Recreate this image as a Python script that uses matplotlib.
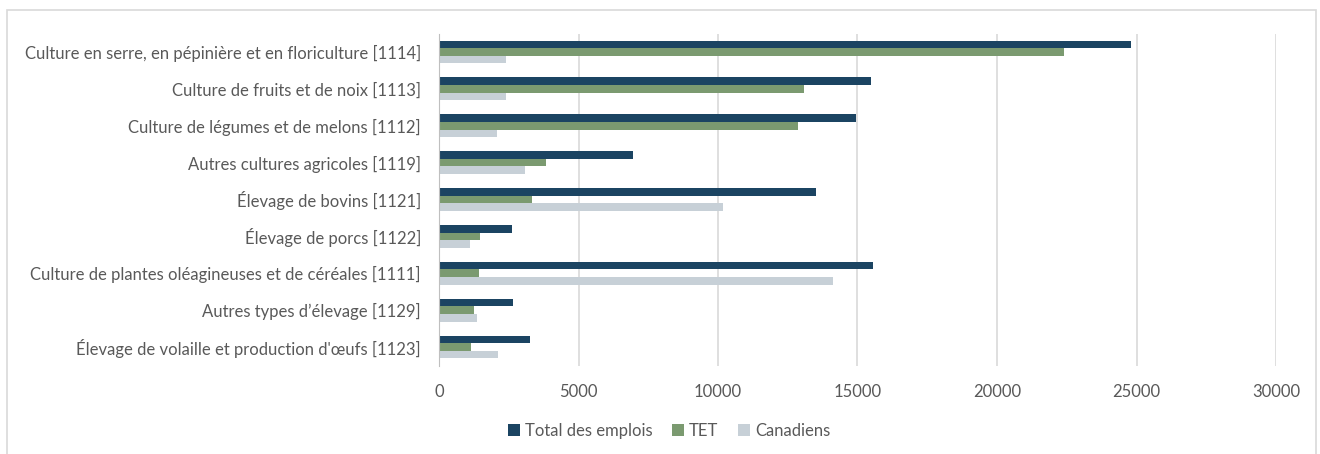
import numpy as np
import matplotlib.pyplot as plt
from matplotlib.patches import Rectangle

# ============= Data
categories = [
    "Culture en serre, en pépinière et en floriculture [1114]",
    "Culture de fruits et de noix [1113]",
    "Culture de légumes et de melons [1112]",
    "Autres cultures agricoles [1119]",
    "Élevage de bovins [1121]",
    "Élevage de porcs [1122]",
    "Culture de plantes oléagineuses et de céréales [1111]",
    "Autres types d\u2019élevage [1129]",
    "Élevage de volaille et production d'œufs [1123]",
]
total_emplois = [24800, 15500, 14950, 6950, 13500, 2630, 15570, 2640, 3270]
tet = [22400, 13100, 12870, 3840, 3320, 1480, 1420, 1250, 1150]
canadiens = [2400, 2400, 2070, 3100, 10170, 1120, 14130, 1350, 2100]
series_names = ["Total des emplois", "TET", "Canadiens"]
colors = ["#1b4462", "#7b9a70", "#c7d0d7"]
xticks = [0, 5000, 10000, 15000, 20000, 25000, 30000]

plt.rcParams['font.family'] = ['Lato', 'DejaVu Sans']
text_color = '#595959'

fig = plt.figure(figsize=(13.2, 4.54), dpi=100)
W, H = 1320, 454
ax = fig.add_axes([439 / W, 1 - 365.5 / H, (1276 - 439) / W, (365.5 - 33.5) / H])

# chart border
fig.patches.append(Rectangle((7 / W, -0.01), (1316 - 7) / W, (1 - 10 / H) + 0.01,
                             transform=fig.transFigure, fill=False,
                             edgecolor='#d9d9d9', linewidth=1.2))

y = np.arange(len(categories))
h = 0.205
for i, (vals, name) in enumerate(zip([total_emplois, tet, canadiens], series_names)):
    ax.barh(y + (i - 1) * h, vals, height=h, color=colors[i], label=name, zorder=3)

ax.set_ylim(len(categories) - 0.5, -0.5)
ax.set_xlim(0, 30000)
ax.set_xticks(xticks)
ax.set_xticklabels([str(t) for t in xticks])
ax.set_yticks(y)
ax.set_yticklabels(categories)
ax.tick_params(axis='both', length=0, labelsize=12, labelcolor=text_color)
ax.tick_params(axis='x', pad=13)
ax.tick_params(axis='y', pad=13)
ax.grid(axis='x', color='#d9d9d9', linewidth=1.2, zorder=0)
for s in ['top', 'right', 'bottom']:
    ax.spines[s].set_visible(False)
ax.spines['left'].set_color('#bfbfbf')
ax.spines['left'].set_zorder(4)

fig.legend(loc='center', bbox_to_anchor=(669 / W, 1 - 431 / H), ncol=3, frameon=False,
           fontsize=12, labelcolor=text_color, handlelength=0.7, handleheight=0.7,
           handletextpad=0.3, columnspacing=1.2)

fig.savefig('out.png', dpi=100)
